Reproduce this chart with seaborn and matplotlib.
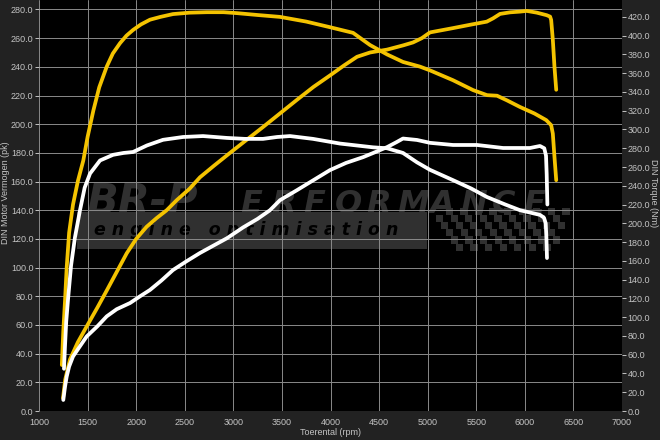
import matplotlib
matplotlib.use("Agg")
import matplotlib.pyplot as plt
import matplotlib.patches as mpatches
import seaborn as sns
import pandas as pd

# ----------------------------------------
# Dyno data
# ----------------------------------------
# tuned power (pk, left axis)
rpm_pk_tuned = [1247, 1270, 1319, 1400, 1491, 1600, 1697, 1800, 1903, 2000, 2108, 2210,
                2314, 2417, 2550, 2657, 2800, 2966, 3135, 3305, 3480, 3655, 3825, 3995,
                4140, 4273, 4407, 4582, 4750, 4849, 4940, 5024, 5261, 5450, 5608, 5673,
                5745, 5848, 5950, 6019, 6122, 6225, 6260, 6271, 6288, 6305, 6323]
pk_tuned = [9, 22, 36, 48, 59, 72, 84, 97, 110, 120, 128.5, 134.5,
            140, 147, 155, 163, 171, 180, 189, 198, 207.5, 217, 226, 234,
            241, 247, 250, 252, 255, 257, 260, 264, 267, 269.5, 271.5, 273.8,
            276.9, 278, 278.5, 279, 277.8, 276, 275, 272.7, 259, 240, 224]

# tuned torque (Nm, right axis)
rpm_nm_tuned = [1235, 1250, 1268, 1285, 1310, 1350, 1400, 1456, 1500, 1559, 1620, 1697,
                1760, 1834, 1900, 1967, 2050, 2142, 2250, 2379, 2550, 2729, 2900, 3038,
                3250, 3480, 3750, 3995, 4232, 4407, 4582, 4746, 4921, 5024, 5261, 5467,
                5611, 5714, 5817, 5950, 6100, 6220, 6271, 6288, 6305, 6323]
nm_tuned = [49, 85, 118, 153, 190, 220, 245, 267, 292, 320, 345, 367,
            381, 392, 400, 406, 412, 417, 420, 423, 424.5, 425, 425, 424,
            422, 420, 415, 409, 403, 390, 380, 372, 367, 363, 352.5, 342,
            336.6, 336, 331, 324, 317, 310, 304.6, 295.7, 270.8, 246]

# stock power (pk, left axis)
rpm_pk_stock = [1250, 1268, 1285, 1310, 1350, 1420, 1491, 1600, 1697, 1800, 1937, 2040,
                2142, 2260, 2379, 2520, 2657, 2800, 2935, 3100, 3250, 3377, 3480, 3655,
                3825, 3995, 4160, 4335, 4460, 4582, 4680, 4746, 4890, 5024, 5261, 5508,
                5776, 6053, 6156, 6200, 6218, 6225, 6232]
pk_stock = [7.7, 17, 24, 31, 38, 45, 52, 59, 66, 71, 75.3, 80,
            84.4, 91, 98.3, 104.5, 110.2, 115.5, 120.5, 128, 134, 140, 147, 154,
            161, 168, 173, 177, 180.5, 184, 187.5, 190, 189, 187, 185.5, 185.5,
            183.4, 183.4, 184.8, 183.2, 178, 165, 144]

# stock torque (Nm, right axis)
rpm_nm_stock = [1257, 1268, 1280, 1298, 1330, 1370, 1422, 1470, 1525, 1628, 1762, 1870,
                1967, 2111, 2276, 2482, 2688, 2935, 3120, 3305, 3450, 3583, 3820, 4098,
                4438, 4582, 4746, 4890, 5024, 5261, 5450, 5611, 5800, 5950, 6156, 6197,
                6215, 6222, 6228]
nm_stock = [45, 70, 95, 118, 155, 185, 214, 238, 253, 267, 273, 275,
            276, 283, 289, 292, 293, 291, 290, 290, 292, 293, 290, 285,
            281, 280, 275, 265, 257, 246, 237, 228, 220, 214, 209, 206,
            200, 185, 163]

x_ticks = list(range(1000, 7001, 500))
pk_ticks = list(range(0, 281, 20))
nm_ticks = list(range(0, 421, 20))

YELLOW = "#f4c300"
TEXT = "#c4c4c4"
LOGO = "#303030"

sns.set_style("dark", {"axes.facecolor": "black", "figure.facecolor": "#222222"})
plt.rcParams['font.family'] = ['Liberation Sans', 'DejaVu Sans']

fig = plt.figure(figsize=(6.6, 4.4), dpi=100)
ax = fig.add_axes([39 / 660, 29 / 440, 583 / 660, 411 / 440])
ax2 = ax.twinx()

# ----------------------------------------
# watermark logo (axes fractions)
# ----------------------------------------
ax.add_patch(mpatches.Rectangle((0.065, 0.395), 0.6, 0.09, transform=ax.transAxes,
                                color=LOGO, zorder=0.2, lw=0))
# checkered flag at the right end of the band
cell_w, cell_h = 0.0125, 0.0175
for r in range(6):
    for c in range(18):
        if (r + c) % 2 == 0 and c + r > 3:
            x0 = 0.665 + c * cell_w + r * 0.004
            y0 = 0.39 + r * cell_h
            ax.add_patch(mpatches.Rectangle((x0, y0), cell_w, cell_h, transform=ax.transAxes,
                                            color=LOGO, zorder=0.2, lw=0))
ax.text(0.08, 0.48, "BR-P", transform=ax.transAxes, fontsize=30, fontweight="bold",
        fontstyle="italic", color=LOGO, zorder=0.3, family="DejaVu Sans")
for i, ch in enumerate("ERFORMANCE"):
    ax.text(0.345 + i * 0.054, 0.482, ch, transform=ax.transAxes, fontsize=23,
            fontweight="bold", fontstyle="italic", color=LOGO, zorder=0.3,
            family="DejaVu Sans")
ax.text(0.095, 0.44, "e n g i n e   o p t i m i s a t i o n", transform=ax.transAxes,
        fontsize=12.5, fontweight="bold", fontstyle="italic", color="black",
        va="center", zorder=0.3, family="DejaVu Sans")

# ----------------------------------------
# curves
# ----------------------------------------
lw = 2.7
sns.lineplot(x=rpm_pk_tuned, y=pk_tuned, ax=ax, color=YELLOW, lw=lw, sort=False,
             estimator=None, solid_capstyle="round", zorder=3)
sns.lineplot(x=rpm_pk_stock, y=pk_stock, ax=ax, color="white", lw=lw, sort=False,
             estimator=None, solid_capstyle="round", zorder=3)
sns.lineplot(x=rpm_nm_tuned, y=nm_tuned, ax=ax2, color=YELLOW, lw=lw, sort=False,
             estimator=None, solid_capstyle="round", zorder=3)
sns.lineplot(x=rpm_nm_stock, y=nm_stock, ax=ax2, color="white", lw=lw, sort=False,
             estimator=None, solid_capstyle="round", zorder=3)

# ----------------------------------------
# axes styling
# ----------------------------------------
ax.set_xlim(1000, 7000)
ax.set_ylim(0, 286.6)
ax2.set_ylim(0, 438)

ax.set_xticks(x_ticks)
ax.set_yticks(pk_ticks)
ax2.set_yticks(nm_ticks)
ax.set_yticklabels([f"{v:.1f}" for v in pk_ticks])
ax2.set_yticklabels([f"{v:.1f}" for v in nm_ticks])

ax.grid(True, color="#8a8a8a", lw=0.7)
ax2.grid(False)
ax.set_axisbelow(True)

for a in (ax, ax2):
    for s in a.spines.values():
        s.set_visible(False)
    a.tick_params(colors=TEXT, labelsize=6.5, length=3, width=0.7, pad=1)
ax.tick_params(axis="x", pad=2)

ax.set_xlabel("Toerental (rpm)", color=TEXT, fontsize=6.5, labelpad=1)
ax.set_ylabel("DIN Motor Vermogen (pk)", color=TEXT, fontsize=6.5, va="center")
ax2.set_ylabel("DIN Torque (Nm)", color=TEXT, fontsize=6.5, rotation=270, va="center")
ax.yaxis.set_label_coords(-0.0575, 0.53)
ax2.yaxis.set_label_coords(1.054, 0.53)

fig.savefig("out.png", dpi=100, facecolor=fig.get_facecolor())
